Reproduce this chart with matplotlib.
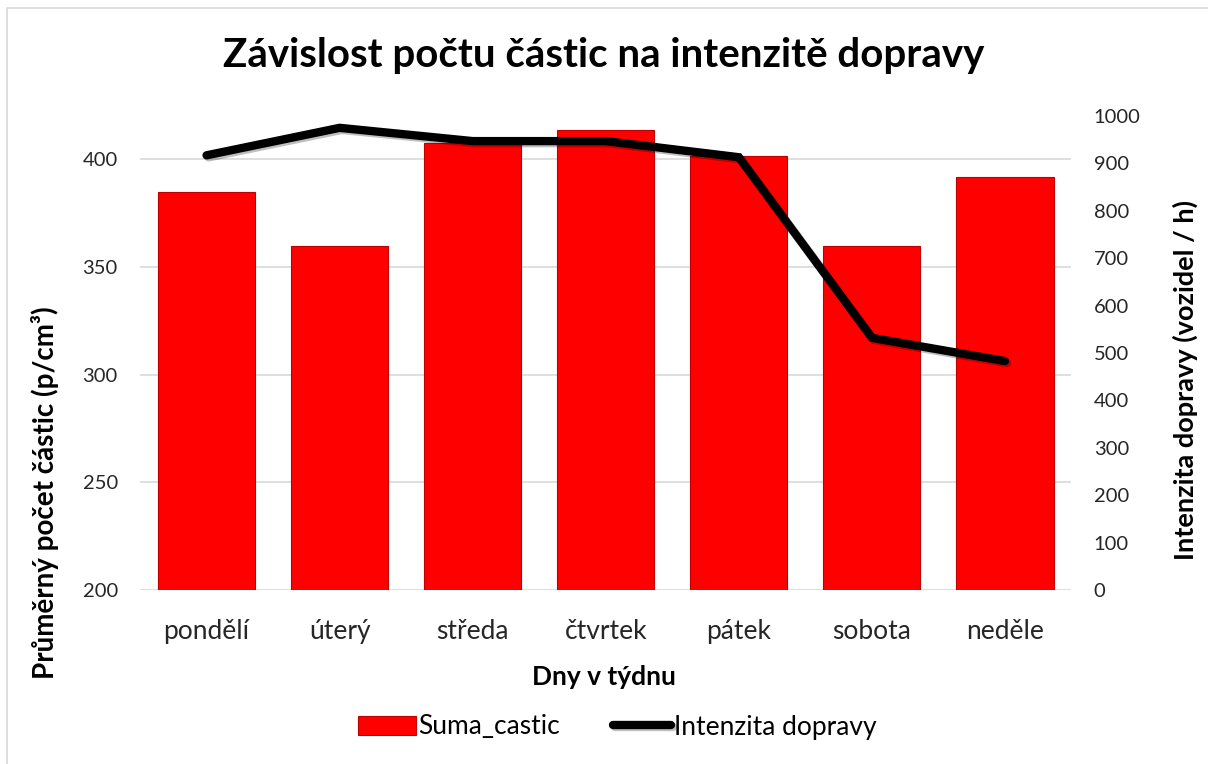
import matplotlib
matplotlib.use("Agg")
import matplotlib.pyplot as plt
import matplotlib.patheffects as pe
from matplotlib.patches import Rectangle
import numpy as np

plt.rcParams["font.family"] = ["Lato", "DejaVu Sans"]

# data
days = ["pondělí", "úterý", "středa", "čtvrtek", "pátek", "sobota", "neděle"]
suma_castic = [384.5, 359.7, 407.4, 413.6, 401.2, 359.8, 391.9]
intenzita = [917, 975, 947, 947, 913, 532, 483]

fig = plt.figure(figsize=(12.08, 7.64), dpi=100)
ax = fig.add_axes([0.1159, 0.2277, 0.7711, 0.6205])
ax2 = ax.twinx()

x = np.arange(len(days))
bars = ax.bar(x, suma_castic, width=0.73, color="#ff0000", edgecolor="#c00000",
              linewidth=0.8, label="Suma_castic", zorder=2)
line, = ax2.plot(x, intenzita, color="black", linewidth=6, solid_capstyle="round",
                 solid_joinstyle="miter", label="Intenzita dopravy", zorder=3,
                 path_effects=[pe.SimpleLineShadow(offset=(1.5, -1.5), alpha=0.25),
                               pe.Normal()])

ax.set_ylim(200, 420)
ax.set_yticks([200, 250, 300, 350, 400])
ax.set_xlim(-0.5, len(days) - 0.5)
ax.set_xticks(x)
ax.set_xticklabels(days)
ax.grid(axis="y", color="#d9d9d9", linewidth=1.2, zorder=0)
ax.set_axisbelow(True)

ax2.set_ylim(0, 1000)
ax2.set_yticks(np.arange(0, 1001, 100))

for a in (ax, ax2):
    for s in a.spines.values():
        s.set_visible(False)
    a.tick_params(axis="both", length=0, labelsize=14.5, colors="#262626")
ax.tick_params(axis="x", labelsize=19, pad=21)
ax.tick_params(axis="y", pad=16)
ax2.tick_params(axis="y", pad=16)

# axis titles placed like in the reference
fig.text(0.5, 1 - 677 / 764, "Dny v týdnu", ha="center", va="center",
         fontsize=19, fontweight="bold")
fig.text(45 / 1208, 1 - 493 / 764, "Průměrný počet částic (p/cm³)", ha="center",
         va="center", rotation=90, fontsize=20, fontweight="bold")
fig.text(1185 / 1208, 1 - 380 / 764, "Intenzita dopravy (vozidel / h)", ha="center",
         va="center", rotation=90, fontsize=19.5, fontweight="bold")

fig.text(0.5, 1 - 55 / 764, "Závislost počtu částic na intenzitě dopravy", ha="center",
         va="center", fontsize=29, fontweight="bold", color="black")

fig.legend([bars, line], ["Suma_castic", "Intenzita dopravy"], loc="center",
           bbox_to_anchor=(617 / 1208, 1 - 727 / 764), ncol=2, frameon=False,
           fontsize=19, handlelength=2.2, handletextpad=0.1, columnspacing=2.0)

# light chart border
fig.patches.append(Rectangle((0.006, -0.01), 1.1, 1.0, transform=fig.transFigure,
                             fill=False, edgecolor="#d9d9d9", linewidth=1.2))

fig.savefig("out.png", dpi=100)
